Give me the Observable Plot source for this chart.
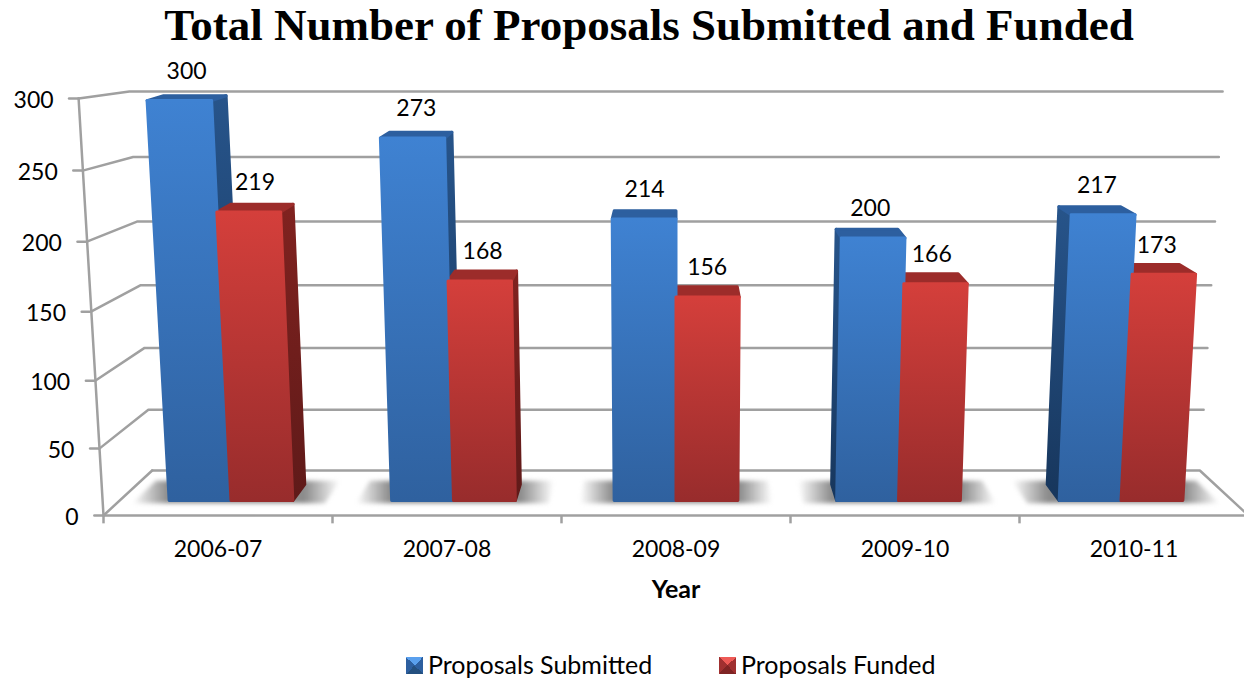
<!DOCTYPE html>
<html>
<head>
<meta charset="utf-8">
<script src="https://cdn.jsdelivr.net/npm/d3@7"></script>
<script src="https://cdn.jsdelivr.net/npm/@observablehq/plot@0.6"></script>
<style>
html,body{margin:0;padding:0;background:#fff;overflow:hidden;width:1244px;height:678px}
#title{position:absolute;left:0;top:0;width:1298px;height:48px;text-align:center;font:bold 45px/50px "Liberation Serif",serif;color:#000;white-space:nowrap}
#chart{position:absolute;left:0;top:48px}
.lg{position:absolute;top:652px;height:24px;font:25px/24px Lato,sans-serif;color:#000;white-space:nowrap}
.sw{position:absolute;top:657px;width:17px;height:17px}
</style>
</head>
<body>
<div id="title">Total Number of Proposals Submitted and Funded</div>
<div id="chart"></div>
<div class="sw" style="left:406px;background:conic-gradient(from 315deg,#5aa0ee 0 25%,#2d5f9f 0 50%,#24507f 0 75%,#2d5f9f 0)"></div>
<div class="lg" style="left:428px">Proposals Submitted</div>
<div class="sw" style="left:719px;background:conic-gradient(from 315deg,#ee5a56 0 25%,#a03030 0 50%,#7f2424 0 75%,#a03030 0)"></div>
<div class="lg" style="left:741px">Proposals Funded</div>
<script>
const years = ["2006-07","2007-08","2008-09","2009-10","2010-11"];
const submitted = [300,273,214,200,217];
const funded = [219,168,156,166,173];
const yTicks = [0,50,100,150,200,250,300];
const gridTicks = [50,100,150,200,250,300];

// 3-D projection of (category position, value, depth) into the x and y scale units
const CX = 2.5, FRONT = 1/3, BACK = 0.69, BAR = 0.278;
const vK = d3.scaleLinear().domain([0,1/3,0.69,1]).range([1,0.959,0.932,0.909]);
const warp = v => v*(0.955+0.00015*v);
const proj = (xw,v,d) => ({
  x: CX + (xw-CX)*(1-0.085*d)*(1+0.000145*v),
  y: 32.4*d + warp(v)*vK(d)
});

const faces = {sb:[],tb:[],fb:[],sr:[],tr:[],fr:[],shadow:[]};
const poly = (arr,id,pts) => pts.forEach(p => arr.push({id,...proj(...p)}));
years.forEach((yr,i) => {
  const c = i+0.5;
  [[submitted[i],c-BAR,c,"b"],[funded[i],c,c+BAR,"r"]].forEach(([v,xl,xr,k]) => {
    const id = yr+k;
    poly(faces["f"+k],id,[[xl,0,FRONT],[xr,0,FRONT],[xr,v,FRONT],[xl,v,FRONT]]);
    poly(faces["t"+k],id,[[xl,v,FRONT],[xr,v,FRONT],[xr,v,BACK],[xl,v,BACK]]);
    if (xr < CX) poly(faces["s"+k],id,[[xr,0,FRONT],[xr,0,BACK],[xr,v,BACK],[xr,v,FRONT]]);
    if (xl > CX) poly(faces["s"+k],id,[[xl,0,FRONT],[xl,0,BACK],[xl,v,BACK],[xl,v,FRONT]]);
  });
  poly(faces.shadow,yr,[[c-0.43,0,0.27],[c+0.43,0,0.27],[c+0.43,0,0.77],[c-0.43,0,0.77]]);
});

const gridRows = gridTicks.flatMap(v => [
  {v,...proj(0,v,0)},{v,...proj(0,v,1)},{v,...proj(5,v,1)}
]);
const floorRows = [proj(0,0,1),proj(5,0,1),proj(5,0,0)].map(p=>({...p,v:"back"}))
  .concat([proj(0,0,0),proj(0,0,1)].map(p=>({...p,v:"left"})))
  .concat([proj(0,0,0),proj(5,0,0)].map(p=>({...p,v:"front"})))
  .concat([proj(0,0,0),proj(0,300,0)].map(p=>({...p,v:"axis"})));
const yTickRows = yTicks.flatMap(v => [
  {v,...proj(-0.04,v,0)},{v,...proj(0,v,0)}
]);
const yLabels = yTicks.map(v => ({v,...proj(0,v,0)}));
const xTickRows = [0,1,2,3,4].map(x => ({x}));
const xLabels = years.map((yr,i) => ({yr,x:i+0.5}));
const valueLabels = years.flatMap((yr,i) => [
  {t:submitted[i],x:proj(i+0.5-BAR/2,submitted[i],0.5).x,y:proj(0,submitted[i],FRONT).y},
  {t:funded[i],x:proj(i+0.5+BAR/2,funded[i],0.5).x,y:proj(0,funded[i],FRONT).y}
]);

const grad = (id,stops) => `<linearGradient id="${id}" x1="0" y1="0" x2="0" y2="1">${
  stops.map((c,i)=>`<stop offset="${i/(stops.length-1)}" stop-color="${c}"/>`).join("")}</linearGradient>`;
const defs = () => {
  const s = d3.create("svg:g");
  s.html(`<defs>${grad("gb",["#3f82d2","#2f619f"])}${grad("gr",["#d43f3b","#982c2c"])}${
    grad("gsb",["#27548a","#17365c"])}${grad("gsr",["#80221f","#5f1a19"])}
    <linearGradient id="gsh" x1="0" y1="0" x2="1" y2="0">
      <stop offset="0" stop-color="#8c8c8c" stop-opacity="0"/>
      <stop offset="0.17" stop-color="#8c8c8c"/>
      <stop offset="0.83" stop-color="#8c8c8c"/>
      <stop offset="1" stop-color="#8c8c8c" stop-opacity="0"/>
    </linearGradient></defs>`);
  return s.node();
};
const face = (data,fill) => Plot.line(data,{x:"x",y:"y",z:"id",curve:"linear-closed",fill,stroke:fill,strokeWidth:3,strokeLinejoin:"round"});
const line = {x:"x",y:"y",z:"v",stroke:"#a0a0a0",strokeWidth:2.5};

const plot = Plot.plot({
  width:1244, height:592, margin:0,
  x:{domain:[0,5],range:[103,1248],axis:null},
  y:{domain:[0,300],range:[467,50],axis:null},
  style:{fontFamily:"Lato",fontSize:"23px",background:"transparent",color:"#000"},
  marks:[
    defs,
    Plot.line(gridRows,line),
    Plot.line(floorRows,line),
    Plot.line(yTickRows,line),
    Plot.ruleX(xTickRows,{x:"x",y1:0,y2:-6,stroke:"#a0a0a0",strokeWidth:2.5}),
    Plot.line(faces.shadow,{x:"x",y:"y",z:"id",curve:"linear-closed",fill:"url(#gsh)",stroke:"none",imageFilter:"blur(2px)"}),
    face(faces.sb,"url(#gsb)"),
    face(faces.sr,"url(#gsr)"),
    face(faces.tb,"#2d5f9f"),
    face(faces.tr,"#9c2c2a"),
    face(faces.fb,"url(#gb)"),
    face(faces.fr,"url(#gr)"),
    Plot.text(yLabels,{x:"x",y:"y",text:d=>String(d.v),textAnchor:"end",dx:-25,dy:2,fontSize:23}),
    Plot.text(xLabels,{x:"x",y:0,text:"yr",dy:34,fontSize:23}),
    Plot.text(["Year"],{x:CX,y:0,text:d=>d,dy:74,fontSize:25,fontWeight:"bold"}),
    Plot.text(valueLabels,{x:"x",y:"y",text:d=>String(d.t),dy:-29,fontSize:23})
  ]
});
document.getElementById("chart").appendChild(plot);
</script>
</body>
</html>
